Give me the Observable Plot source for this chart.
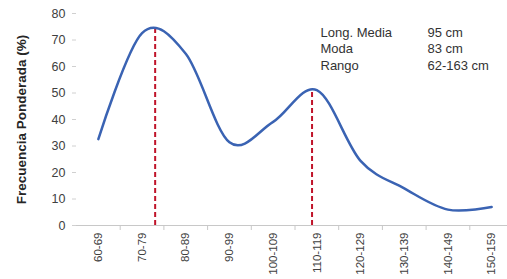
<!DOCTYPE html>
<html>
<head>
<meta charset="utf-8">
<script src="https://cdn.jsdelivr.net/npm/d3@7"></script>
<script src="https://cdn.jsdelivr.net/npm/@observablehq/plot@0.6"></script>
<style>
  html, body { margin: 0; padding: 0; background: #fff; }
  #chart svg { display: block; }
</style>
</head>
<body>
<div id="chart"></div>
<script>
const categories = ["60-69", "70-79", "80-89", "90-99", "100-109", "110-119", "120-129", "130-139", "140-149", "150-159"];
const frequency = [32.6, 72.6, 64.8, 31.4, 39.1, 51.1, 24.4, 14, 6, 7];
const yTicks = [0, 10, 20, 30, 40, 50, 60, 70, 80];
const modePositions = [1.3, 4.89];
const modePeaks = [74.5, 51.4];
const statLabels = ["Long. Media", "Moda", "Rango"];
const statValues = ["95 cm", "83 cm", "62-163 cm"];

const series = frequency.map((v, i) => ({i, v}));
const modes = modePositions.map((x, k) => ({x, y: modePeaks[k]}));
const idx = categories.map((_, i) => i);
const bounds = categories.slice(1).map((_, i) => i + 0.5);

const chart = Plot.plot({
  width: 507,
  height: 279,
  marginLeft: 76,
  marginRight: -6,
  marginTop: 13,
  marginBottom: 54,
  style: {fontFamily: "'Liberation Sans', Arial, sans-serif", background: "#fff"},
  x: {type: "linear", domain: [-0.5, 9.5], axis: null},
  y: {domain: [0, 80], axis: null},
  marks: [
    Plot.ruleY([0], {stroke: "#c8c8c8", strokeWidth: 1.2}),
    Plot.axisY({ticks: yTicks, tickSize: 4, tickPadding: 7, stroke: "#d0d0d0", fill: "#404040", fontSize: 12.5,
      label: "Frecuencia Ponderada (%)", labelAnchor: "center", labelArrow: "none", labelOffset: 60}),
    Plot.axisX({ticks: bounds, tickSize: 5, stroke: "#c8c8c8", tickFormat: () => ""}),
    Plot.axisX({ticks: idx, tickSize: 0, tickPadding: 7, tickRotate: -90, fill: "#404040", fontSize: 11.5,
      tickFormat: i => categories[i], label: null}),
    Plot.ruleX(modes, {x: "x", y1: 0, y2: "y", stroke: "#c0142a", strokeWidth: 2, strokeDasharray: "5,3"}),
    Plot.line(series, {x: "i", y: "v", curve: "cardinal", tension: 0, stroke: "#3a63b3", strokeWidth: 2.5}),
    Plot.text([statLabels.join("\n")], {frameAnchor: "top-left", dx: 244, dy: 11, lineHeight: 1.3, fontSize: 13, fill: "#333", textAnchor: "start"}),
    Plot.text([statValues.join("\n")], {frameAnchor: "top-left", dx: 351, dy: 11, lineHeight: 1.3, fontSize: 13, fill: "#333", textAnchor: "start"})
  ]
});
chart.querySelectorAll('g[aria-label="y-axis label"]').forEach(g => {
  g.setAttribute("font-size", "13.5");
  g.setAttribute("font-weight", "bold");
  g.setAttribute("fill", "#262626");
});
document.getElementById("chart").append(chart);
</script>
</body>
</html>
